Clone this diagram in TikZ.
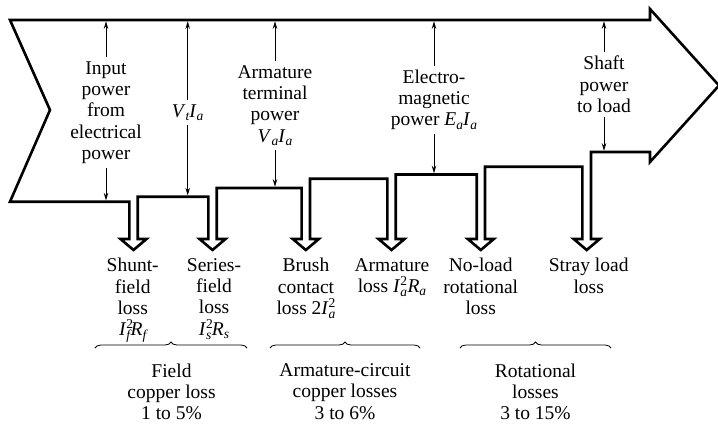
\documentclass[tikz,border=0pt]{standalone}
\usepackage{fontspec}
\setmainfont{Liberation Serif}
\usetikzlibrary{arrows.meta,decorations.pathreplacing}
\newcommand{\smallfnt}{\fontsize{13.5}{13.5}\selectfont}
\newcommand{\sbs}[1]{\raisebox{-0.4ex}{\smallfnt\itshape #1}}
\newcommand{\hilo}[2]{\makebox[0pt][l]{\raisebox{0.75ex}{\smallfnt #1}}\raisebox{-0.45ex}{\smallfnt\itshape #2}\hspace{0.5pt}}
\newcommand{\iv}[1]{\textit{#1}}
\begin{document}
\begin{tikzpicture}[x=1pt,y=-1pt,
  flow/.style={line width=2.6pt,line join=miter},
  lbl/.style={align=center,font=\fontsize{19.5}{21.3}\selectfont,inner sep=0pt},
  thin/.style={line width=0.8pt,-{Stealth[length=7.5pt,width=4.5pt]}},
  brc/.style={line width=0.8pt,decorate,decoration={brace,amplitude=6pt}}]
\useasboundingbox (0,0) rectangle (718,424);
% main flow outline
\draw[flow] (10,20) -- (650,20) -- (650,9) -- (719,85.5) -- (650,162) -- (650,152)
  -- (591,152) -- (591,239) -- (599.7,239) -- (586.7,250) -- (573.7,239) -- (582.3,239)
  -- (582.3,166.7) -- (485,166.7) -- (485,239) -- (493.8,239) -- (480.8,250) -- (467.8,239) -- (476.7,239)
  -- (476.7,174.5) -- (395.7,174.5) -- (395.7,239) -- (404.5,239) -- (391.5,250) -- (378.5,239) -- (387.3,239)
  -- (387.3,178.7) -- (310,178.7) -- (310,239) -- (318.8,239) -- (305.8,250) -- (292.8,239) -- (301.6,239)
  -- (301.6,188) -- (216.7,188) -- (216.7,239) -- (225.5,239) -- (212.5,250) -- (199.5,239) -- (208.3,239)
  -- (208.3,196.7) -- (137.7,196.7) -- (137.7,239) -- (146.5,239) -- (133.5,250) -- (120.5,239) -- (129.3,239)
  -- (129.3,201.7) -- (10,201.7) -- (50,110) -- cycle;
% top / bottom endpoints of the thin arrows
\coordinate (inpT) at (106,21.3);   \coordinate (inpB) at (106,200.4);
\coordinate (vtT) at (187.7,21.3);  \coordinate (vtB) at (187.7,195.4);
\coordinate (atT) at (275,21.3);    \coordinate (atB) at (275,186.7);
\coordinate (emT) at (434,21.3);    \coordinate (emB) at (434,173.2);
\coordinate (shT) at (604,21.3);    \coordinate (shB) at (604,150.7);
% flow labels
\node[lbl,inner sep=4pt] (inp) at (106,112.5) {Input\\power\\from\\electrical\\power};
\node[lbl,inner sep=4pt] (vt) at (187.7,112.5) {\iv{V}\sbs{t}\iv{I}\sbs{a}};
\node[lbl,inner sep=4pt] (at) at (275,105.5) {Armature\\terminal\\power\\\iv{V}\sbs{a}\iv{I}\sbs{a}};
\node[lbl,inner sep=4pt] (em) at (434,100) {Electro-\\magnetic\\power \iv{E}\sbs{a}\iv{I}\sbs{a}};
\node[lbl,inner sep=4pt] (sh) at (604,84.5) {Shaft\\power\\to load};
\foreach \n in {inp,vt,at,em,sh}{
  \draw[thin] (\n.north) -- (\n T);
  \draw[thin] (\n.south) -- (\n B);
}
% loss labels
\node[lbl,anchor=north] (shunt) at (132.7,258) {Shunt-\\field\\loss\\\iv{I}\hilo{2}{f}\iv{R}\sbs{f}};
\node[lbl,anchor=north] (series) at (214,258) {Series-\\field\\loss\\\iv{I}\hilo{2}{s}\iv{R}\sbs{s}};
\node[lbl,anchor=north] (brush) at (306,258) {Brush\\contact\\loss 2\iv{I}\hilo{2}{a}};
\node[lbl,anchor=north] (arm) at (392,258) {Armature\\loss \iv{I}\hilo{2}{a}\iv{R}\sbs{a}};
\node[lbl,anchor=north] (nol) at (480.7,258) {No-load\\rotational\\loss};
\node[lbl,anchor=north] (stray) at (588.7,258) {Stray load\\loss};
% braces
\coordinate (b1l) at (95,348);  \coordinate (b1r) at (247,348);
\coordinate (b2l) at (270,348); \coordinate (b2r) at (420,348);
\coordinate (b3l) at (460,348); \coordinate (b3r) at (611,348);
\draw[brc] (b1l) -- (b1r);
\draw[brc] (b2l) -- (b2r);
\draw[brc] (b3l) -- (b3r);
\node[lbl,anchor=north] (g1) at (171.5,363.5) {Field\\copper loss\\1 to 5\%};
\node[lbl,anchor=north] (g2) at (345,363.5) {Armature-circuit\\copper losses\\3 to 6\%};
\node[lbl,anchor=north] (g3) at (535.5,363.5) {Rotational\\losses\\3 to 15\%};
\end{tikzpicture}
\end{document}
